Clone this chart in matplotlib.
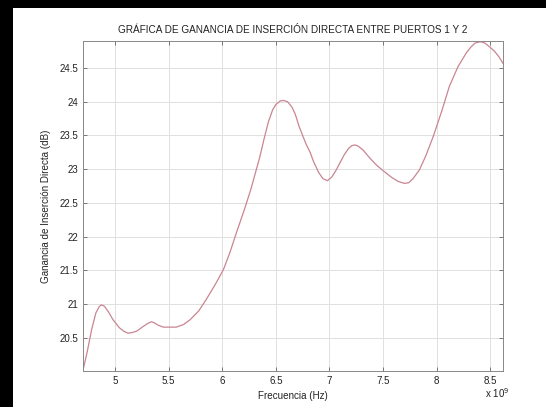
import numpy as np
import matplotlib
matplotlib.use("Agg")
import matplotlib.pyplot as plt
from matplotlib.patches import Rectangle

# frequency (x 1e9 Hz) and insertion gain (dB)
freq = [4.70, 4.74, 4.78, 4.82, 4.85, 4.87, 4.90, 4.94, 4.98, 5.04, 5.08, 5.12, 5.16,
        5.20, 5.28, 5.31, 5.34, 5.37, 5.40, 5.45, 5.57, 5.64, 5.70, 5.78, 5.85, 5.93,
        6.01, 6.07, 6.13, 6.21, 6.27, 6.31, 6.35, 6.39, 6.43, 6.47, 6.50, 6.54, 6.57,
        6.61, 6.65, 6.68, 6.72, 6.78, 6.82, 6.85, 6.90, 6.94, 6.98, 7.02, 7.06, 7.10,
        7.14, 7.18, 7.21, 7.24, 7.27, 7.31, 7.38, 7.44, 7.50, 7.58, 7.64, 7.70, 7.74,
        7.78, 7.84, 7.90, 7.97, 8.05, 8.12, 8.20, 8.28, 8.32, 8.36, 8.41, 8.45, 8.49,
        8.54, 8.58, 8.62]
gain = [20.02, 20.30, 20.62, 20.87, 20.96, 20.99, 20.97, 20.88, 20.77, 20.65, 20.60, 20.57, 20.58,
        20.60, 20.69, 20.72, 20.74, 20.72, 20.69, 20.66, 20.66, 20.70, 20.77, 20.90, 21.07, 21.28,
        21.51, 21.76, 22.05, 22.42, 22.72, 22.95, 23.18, 23.45, 23.70, 23.88, 23.96, 24.01, 24.02,
        24.00, 23.92, 23.82, 23.62, 23.38, 23.25, 23.12, 22.95, 22.86, 22.83, 22.88, 22.98, 23.10,
        23.22, 23.31, 23.35, 23.36, 23.34, 23.29, 23.16, 23.06, 22.98, 22.88, 22.82, 22.79, 22.80,
        22.86, 22.99, 23.20, 23.49, 23.87, 24.23, 24.52, 24.73, 24.81, 24.87, 24.89, 24.87, 24.82,
        24.75, 24.67, 24.57]

xticks = [5, 5.5, 6, 6.5, 7, 7.5, 8, 8.5]
yticks = [20.5, 21, 21.5, 22, 22.5, 23, 23.5, 24, 24.5]

plt.rcParams['font.family'] = ['Liberation Sans', 'DejaVu Sans']
fig = plt.figure(figsize=(5.46, 4.07), dpi=100, facecolor='white')
W, H = 546, 407
# black bands at top and left of the screenshot
fig.patches.append(Rectangle((0, 0), 13 / W, 1, transform=fig.transFigure,
                             facecolor='black', edgecolor='none'))
fig.patches.append(Rectangle((0, (H - 8) / H), 1, 8 / H, transform=fig.transFigure,
                             facecolor='black', edgecolor='none'))

ax = fig.add_axes([83 / W, 1 - 371 / H, (503 - 83) / W, (371 - 41) / H])
ax.plot(freq, gain, color='#c98592', lw=0.9)
ax.set_xlim(4.7, 8.62)
ax.set_ylim(20.01, 24.9)
ax.set_xticks(xticks)
ax.set_xticklabels(['%g' % t for t in xticks])
ax.set_yticks(yticks)
ax.set_yticklabels(['%g' % t for t in yticks])
ax.grid(True, color='#e0e0e0', lw=0.7)
ax.tick_params(direction='in', length=3, width=0.6, labelsize=7,
               top=True, right=True, colors='#666666', labelcolor='#222222')
for s in ax.spines.values():
    s.set_color('#888888')
    s.set_linewidth(0.7)

ax.set_title('GRÁFICA DE GANANCIA DE INSERCIÓN DIRECTA ENTRE PUERTOS 1 Y 2',
             fontsize=7.2, color='#222222', pad=6)
ax.set_xlabel('Frecuencia (Hz)', fontsize=7.1, color='#222222', labelpad=4)
ax.set_ylabel('Ganancia de Inserción Directa (dB)', fontsize=7.1, color='#222222', labelpad=6)
ax.text(0.985, -0.045, r'x 10$^{9}$', transform=ax.transAxes, fontsize=7,
        color='#222222', ha='center', va='top')

fig.savefig('out.png', dpi=100)
